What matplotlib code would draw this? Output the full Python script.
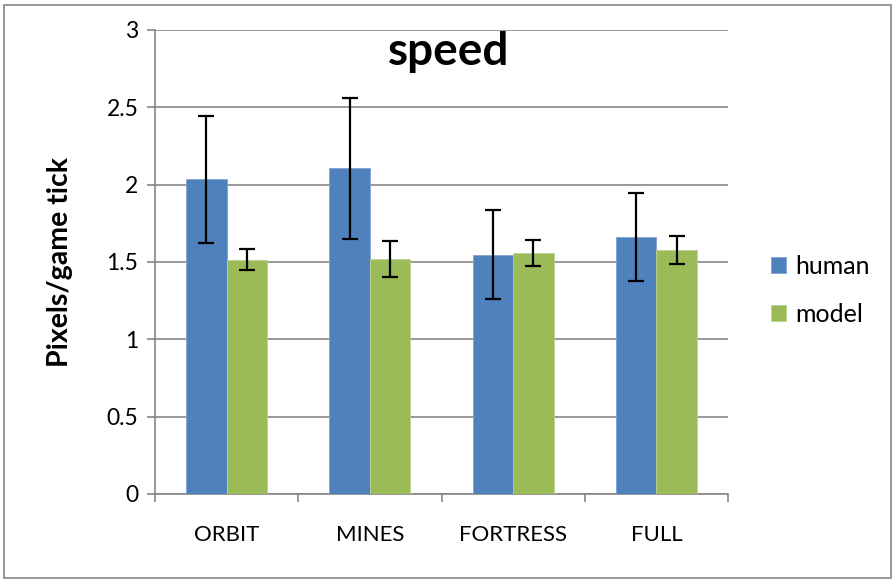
import numpy as np
import matplotlib.pyplot as plt
from matplotlib.patches import Rectangle

plt.rcParams['font.family'] = ['Lato', 'DejaVu Sans']

categories = ['ORBIT', 'MINES', 'FORTRESS', 'FULL']
human = [2.035, 2.105, 1.548, 1.660]
model = [1.514, 1.519, 1.560, 1.578]
human_err = [0.41, 0.455, 0.285, 0.285]
model_err = [0.067, 0.115, 0.085, 0.09]

blue = '#4f81bd'
green = '#9bbb59'
gray = '#868686'

fig = plt.figure(figsize=(8.96, 5.83), dpi=100)
fig.patches.append(Rectangle((4/896, 5/583), 887/896, 573/583, transform=fig.transFigure,
                             fill=False, edgecolor=gray, linewidth=1.2))
ax = fig.add_axes([155/896, 89/583, 573/896, 464/583])

x = np.arange(len(categories))
w = 0.283
ekw = dict(elinewidth=1.6, capthick=1.6)
ax.bar(x - w/2, human, w, color=blue, edgecolor='#7fa3d0', linewidth=0.6, label='human', zorder=3,
       yerr=human_err, capsize=6, error_kw=ekw)
ax.bar(x + w/2, model, w, color=green, edgecolor='#bcd38f', linewidth=0.6, label='model', zorder=3,
       yerr=model_err, capsize=6, error_kw=ekw)

ax.set_xlim(-0.5, len(categories) - 0.5)
ax.set_ylim(0, 3)
ax.set_yticks(np.arange(0, 3.01, 0.5))
ax.set_yticklabels(['0', '0.5', '1', '1.5', '2', '2.5', '3'], fontsize=16.5)
ax.yaxis.grid(True, color=gray, linewidth=1.2, zorder=0)
ax.set_axisbelow(True)

ax.set_xticks(x)
ax.set_xticklabels(categories, fontsize=16)
ax.set_xticks(np.arange(-0.5, len(categories)), minor=True)
ax.tick_params(axis='x', which='major', length=0, pad=22)
ax.tick_params(axis='x', which='minor', length=6, color=gray, width=1.2)
ax.tick_params(axis='y', length=6, color=gray, width=1.2, pad=6)

for s in ['top', 'right']:
    ax.spines[s].set_visible(False)
for s in ['left', 'bottom']:
    ax.spines[s].set_color(gray)
    ax.spines[s].set_linewidth(1.2)

ax.set_ylabel('Pixels/game tick', fontsize=20.5, fontweight='bold', labelpad=24)
fig.text(449/896, 1 - 52/583, 'speed', ha='center', va='center', fontsize=33, fontweight='bold')

ax.legend(loc='center left', bbox_to_anchor=((771 - 155)/573, (494 - 290)/464), frameon=False,
          borderpad=0, borderaxespad=0, fontsize=18, handlelength=0.6, handleheight=0.6,
          handletextpad=0.35, labelspacing=1.0, bbox_transform=ax.transAxes)

fig.savefig('out.png', dpi=100)
